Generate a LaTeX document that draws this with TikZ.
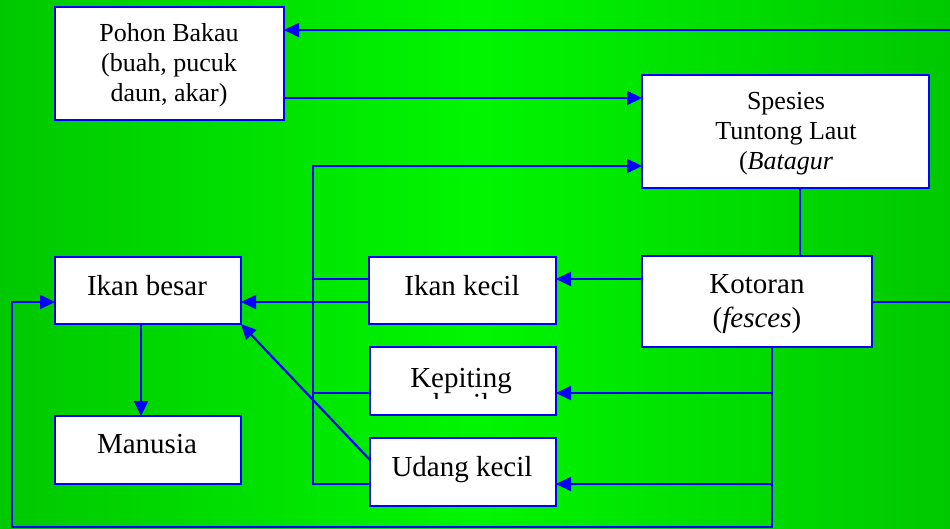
\documentclass[tikz,border=0pt]{standalone}
\usepackage{fontspec}
\setmainfont{Liberation Serif}
\usetikzlibrary{arrows.meta}

\definecolor{edge}{RGB}{0,0,255}
\definecolor{bgdark}{RGB}{0,200,0}
\definecolor{bglight}{RGB}{0,246,0}

\begin{document}
\begin{tikzpicture}[x=1pt,y=-1pt,
  box/.style={draw=edge, line width=2.2pt, fill=white, inner sep=0pt, outer sep=0pt, anchor=north west},
  wire/.style={draw=edge, line width=2.2pt},
  arr/.style={wire, -{Triangle[length=15pt,width=14pt]}},
  big/.style={font=\fontsize{29}{33}\selectfont, anchor=base, inner sep=0pt},
  small/.style={font=\fontsize{26}{30}\selectfont, anchor=base, inner sep=0pt},
]
% canvas with a soft horizontal green gradient
\useasboundingbox (0,0) rectangle (950,529);
\shade[left color=bgdark, right color=bgdark, middle color=bglight] (0,0) rectangle (950,529);

% boxes
\node[box, minimum width=229pt, minimum height=113pt] (pohon)     at (55,7)    {};
\node[box, minimum width=287pt, minimum height=113pt] (spesies)   at (642,75)  {};
\node[box, minimum width=230pt, minimum height=91pt]  (kotoran)   at (642,256) {};
\node[box, minimum width=186pt, minimum height=67pt]  (ikanbesar) at (55,257)  {};
\node[box, minimum width=187pt, minimum height=67pt]  (ikankecil) at (369,257) {};
\node[box, minimum width=186pt, minimum height=68pt]  (kepiting)  at (370,347) {};
\node[box, minimum width=186pt, minimum height=68pt]  (udang)     at (370,438) {};
\node[box, minimum width=186pt, minimum height=68pt]  (manusia)   at (55,416)  {};

% free ends at the right border and junction points
\coordinate (rtop) at (950,30);
\coordinate (rmid) at (950,302);
\coordinate (busL) at (313,166);
\coordinate (busB) at (313,484);
\coordinate (dropK) at (772,393);
\coordinate (dropU) at (772,484);
\coordinate (loopC) at (12,527);

% connectors
\draw[arr] (rtop) -- (pohon.east |- rtop);
\draw[arr] (pohon.east |- 0,98) -- (spesies.west |- 0,98);
\draw[wire] (kotoran.north -| 800,0) -- (spesies.south -| 800,0);
\draw[arr] (kotoran.west |- 0,279) -- (ikankecil.east |- 0,279);
\draw[wire] (kotoran.east |- rmid) -- (rmid);
\draw[arr] (kotoran.south -| 772,0) |- (loopC) |- (ikanbesar.west |- 0,302);
\draw[arr] (dropK) -- (kepiting.east |- dropK);
\draw[arr] (dropU) -- (udang.east |- dropU);
\draw[arr] (ikankecil.west |- 0,302) -- (ikanbesar.east |- 0,302);
\draw[arr] (udang.west |- busB) -- (busB) -- (busL) -- (spesies.west |- busL);
\draw[wire] (kepiting.west |- 0,393) -- (busL |- 0,393);
\draw[wire] (ikankecil.west |- 0,279) -- (busL |- 0,279);
\draw[arr] (udang.west |- 0,460) -- (ikanbesar.south east);
\draw[arr] (ikanbesar.south -| 141,0) -- (manusia.north -| 141,0);

% labels
\node[small] (pohon-1) at (169,42)  {Pohon Bakau};
\node[small] (pohon-2) at (169,72)  {(buah, pucuk};
\node[small] (pohon-3) at (169,102) {daun, akar)};
\node[small] (spesies-1) at (786,110) {Spesies};
\node[small] (spesies-2) at (786,140) {Tuntong Laut};
\node[small] (spesies-3) at (786,170) {(\textit{Batagur}};
\node[big] (kotoran-1) at (757,294) {Kotoran};
\node[big] (kotoran-2) at (757,327) {(\textit{fesces})};
\node[big] (ikanbesar-t) at (147,295) {Ikan besar};
\node[big] (ikankecil-t) at (462,295) {Ikan kecil};
\node[big] (kepiting-1) at (461,387) {Kepiting};
% second line of this label is cut off by the box's text frame
\begin{scope}
  \clip (370,347) rectangle (556,398);
  \node[big] (kepiting-2) at (461,413) {kecil};
\end{scope}
\node[big] (udang-t) at (462,476) {Udang kecil};
\node[big] (manusia-t) at (147,453) {Manusia};
\end{tikzpicture}
\end{document}
